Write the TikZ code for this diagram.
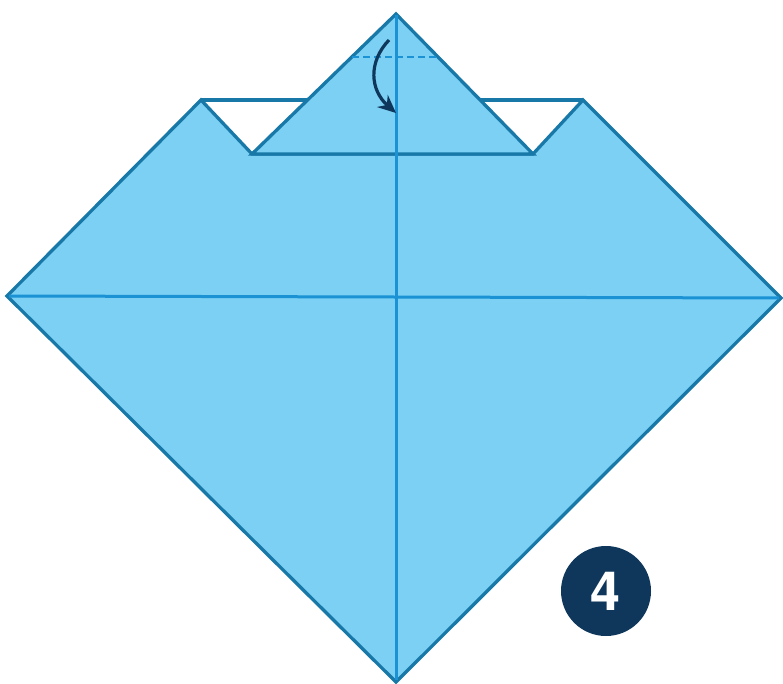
\documentclass[tikz,border=0pt]{standalone}
\usepackage{fontspec}
\setsansfont{TeX Gyre Heros}
\usepackage{tikz}
\usetikzlibrary{arrows.meta,positioning,calc}

\definecolor{paperblue}{HTML}{7BD0F4}
\definecolor{edgeblue}{HTML}{1878A8}
\definecolor{creaseblue}{HTML}{1A92D4}
\definecolor{navy}{HTML}{0F375C}

\begin{document}
\begin{tikzpicture}[x=1pt,y=-1pt,
    edge/.style={draw=edgeblue,line width=3.3pt,line join=miter},
    crease/.style={draw=creaseblue,line width=3pt},
    badge/.style={circle,fill=navy,minimum size=90pt,inner sep=0pt,text=white,
      font=\sffamily\bfseries\fontsize{54}{54}\selectfont}]
  \useasboundingbox (0,0) rectangle (783,684);
  % 本体（大きなひし形）
  \filldraw[edge,fill=paperblue]
    (7,296) -- (201,100) -- (252,154) -- (533,154) -- (583,100)
    -- (781,298) -- (396,682) -- cycle;
  % 後ろの層の上辺
  \draw[edge] (201,100) -- (310,100);
  \draw[edge] (478,100) -- (583,100);
  % 上の三角形（折り下げる部分）
  \filldraw[edge,fill=paperblue] (252,154) -- (396,14) -- (533,154) -- cycle;
  % 中心の折り線
  \draw[crease] (396,15) -- (396,680);
  \draw[crease] (9,296) -- (779,298);
  % 谷折り線（点線）
  \draw[crease,line width=2pt,dash pattern=on 7pt off 4pt] (352,57) -- (438,57);
  % 折る向きの矢印
  \draw[navy,line width=3.2pt,-{Stealth[length=18pt,width=16pt]}]
    (389,40) .. controls (368,62) and (370,90) .. (396,113);
  % 手順番号
  \node[badge] (step4) at (606,591) {4};
\end{tikzpicture}
\end{document}
